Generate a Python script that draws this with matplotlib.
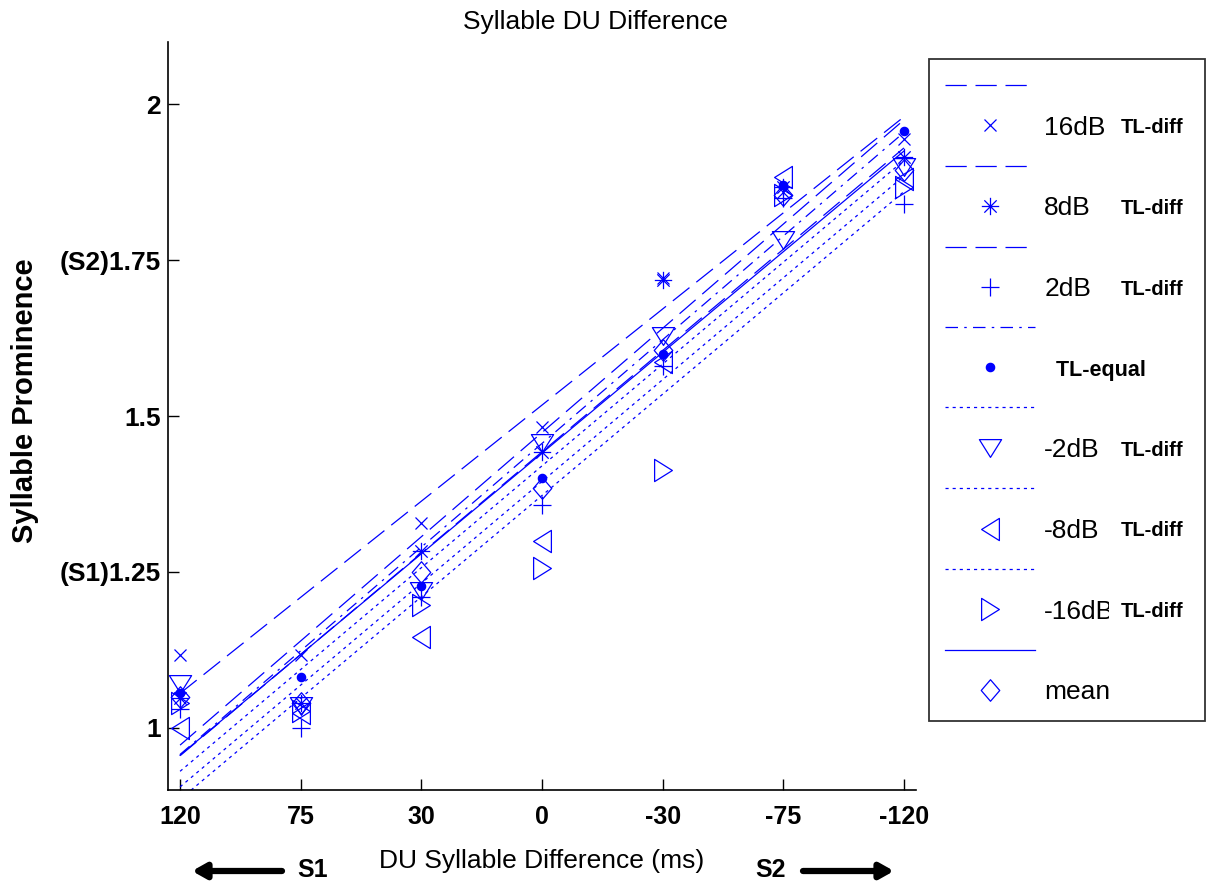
import numpy as np
import matplotlib
matplotlib.use('Agg')
import matplotlib.pyplot as plt
from matplotlib.path import Path
from matplotlib.patches import Rectangle

plt.rcParams['font.family'] = ['Liberation Sans', 'DejaVu Sans']

# Duration difference between the two syllables (ms), one category per column
du_labels = ['120', '75', '30', '0', '-30', '-75', '-120']

# Mean prominence rating for each TL condition
prom_16db = [1.116, 1.116, 1.328, 1.482, 1.722, 1.860, 1.944]
prom_8db = [1.048, 1.040, 1.283, 1.442, 1.718, 1.868, 1.916]
prom_2db = [1.030, 1.000, 1.210, 1.357, 1.580, 1.850, 1.840]
prom_tl_equal = [1.055, 1.082, 1.228, 1.400, 1.600, 1.870, 1.957]
prom_m2db = [1.070, 1.035, 1.220, 1.456, 1.628, 1.783, 1.900]
prom_m8db = [1.000, 1.024, 1.145, 1.300, 1.587, 1.883, 1.880]
prom_m16db = [1.040, 1.027, 1.196, 1.256, 1.413, 1.855, 1.867]
prom_mean = [1.050, 1.040, 1.250, 1.385, 1.606, 1.855, 1.895]

# Linear trend of each condition, evaluated at DU = 120 ms and DU = -120 ms
trend_at_120 = [1.055, 0.972, 0.955, 0.957, 0.930, 0.905, 0.885, 0.956]
trend_at_m120 = [1.980, 1.975, 1.930, 1.955, 1.910, 1.885, 1.860, 1.925]

series_labels = ['16dB', '8dB', '2dB', 'TL-equal', '-2dB', '-8dB', '-16dB', 'mean']
ytick_values = [1.0, 1.25, 1.5, 1.75, 2.0]
ytick_labels = ['1', '(S1)1.25', '1.5', '(S2)1.75', '2']

BLUE = '#0000ff'
W, H = 1207, 893

# MATLAB-like marker shapes
asterisk = Path([(-1, 0), (1, 0), (0, -1), (0, 1),
                 (-0.71, -0.71), (0.71, 0.71), (-0.71, 0.71), (0.71, -0.71)],
                [Path.MOVETO, Path.LINETO] * 4)
diamond = Path([(0, 1), (0.86, 0), (0, -1), (-0.86, 0), (0, 1)], closed=True)
tri_down = Path([(-1, 0.8), (1, 0.8), (0, -0.8), (-1, 0.8)], closed=True)
tri_left = Path([(-0.8, 0), (0.8, 1), (0.8, -1), (-0.8, 0)], closed=True)
tri_right = Path([(0.8, 0), (-0.8, 1), (-0.8, -1), (0.8, 0)], closed=True)

long_dash = (0, (17, 7))
dash_dot = (0, (10, 5, 2, 5))
dotted = (0, (2.5, 3.2))

series = [
    (prom_16db, 'x', 8, long_dash),
    (prom_8db, asterisk, 12.5, long_dash),
    (prom_2db, '+', 13.5, long_dash),
    (prom_tl_equal, 'o', 6, dash_dot),
    (prom_m2db, tri_down, 16, dotted),
    (prom_m8db, tri_left, 16, dotted),
    (prom_m16db, tri_right, 16, dotted),
    (prom_mean, diamond, 15.5, '-'),
]

fig = plt.figure(figsize=(W / 100, H / 100), dpi=100)
ax = fig.add_axes([168 / W, 1 - 790 / H, (916 - 168) / W, (790 - 42) / H])

x = np.arange(1, len(du_labels) + 1)
handles, labels = [], []
for i, (vals, mk, ms, ls) in enumerate(series):
    ln, = ax.plot([x[0], x[-1]], [trend_at_120[i], trend_at_m120[i]],
                  color=BLUE, lw=0.9, ls=ls)
    filled = (mk == 'o')
    pts, = ax.plot(x, vals, ls='none', marker=mk, ms=ms, color=BLUE,
                   mew=0.9, mfc=BLUE if filled else 'none', mec=BLUE)
    handles += [ln, pts]
    labels += [' ', series_labels[i]]

ax.set_xlim(0.9, 7.1)
ax.set_ylim(0.9, 2.1)
ax.set_xticks(x)
ax.set_xticklabels(du_labels, fontsize=18, fontweight='bold')
ax.set_yticks(ytick_values)
ax.set_yticklabels(ytick_labels, fontsize=19, fontweight='bold')
ax.tick_params(axis='x', direction='in', length=8, width=1, pad=11)
ax.tick_params(axis='y', direction='in', length=8, width=1, pad=5)
for side in ('top', 'right'):
    ax.spines[side].set_visible(False)
for side in ('left', 'bottom'):
    ax.spines[side].set_linewidth(1.2)

ax.set_xlabel('DU Syllable Difference (ms)', fontsize=19, labelpad=14)
ax.set_ylabel('Syllable Prominence', fontsize=21, fontweight='bold')
ax.yaxis.set_label_coords(-0.172, 0.52)
fig.text(595 / W, 1 - 22 / H, 'Syllable DU Difference', fontsize=19,
         ha='center', va='center')

# Direction hints below the x axis
fig.text(313 / W, 23 / H, 'S1', fontsize=18, fontweight='bold', ha='center', va='center')
fig.text(771 / W, 23 / H, 'S2', fontsize=18, fontweight='bold', ha='center', va='center')
arrow = dict(arrowstyle='-|>,head_length=0.8,head_width=0.45', lw=4.5, color='k',
             shrinkA=0, shrinkB=0)
fig.add_artist(plt.Annotation('', xy=(192 / W, 22 / H), xytext=(282 / W, 22 / H),
                              xycoords='figure fraction', textcoords='figure fraction',
                              arrowprops=arrow))
fig.add_artist(plt.Annotation('', xy=(894 / W, 22 / H), xytext=(803 / W, 22 / H),
                              xycoords='figure fraction', textcoords='figure fraction',
                              arrowprops=arrow))

leg = fig.legend(handles, labels, loc='upper left',
                 bbox_to_anchor=(929 / W, 1 - 59 / H - 0.01, (1205 - 929) / W, 0.01),
                 bbox_transform=fig.transFigure, mode='expand', borderaxespad=0,
                 fontsize=19, handlelength=3.4, handletextpad=0.35,
                 labelspacing=0.62, borderpad=0.62, frameon=True, fancybox=False,
                 edgecolor='#333333', framealpha=1, numpoints=1)
leg.get_frame().set_linewidth(1.3)
texts = leg.get_texts()
eq_text = texts[2 * series_labels.index('TL-equal') + 1]
eq_text.set_text('  TL-equal')
eq_text.set_fontweight('bold')
eq_text.set_fontsize(15.5)

# Subscript-like "TL-diff" tags beside the dB conditions
fig.canvas.draw()
renderer = fig.canvas.get_renderer()
for i, name in enumerate(series_labels):
    if name in ('TL-equal', 'mean'):
        continue
    bb = texts[2 * i + 1].get_window_extent(renderer)
    yc = (bb.y0 + bb.y1) / 2
    tag_x = 1121
    if bb.x1 > tag_x - 14:
        fig.add_artist(Rectangle(((tag_x - 12) / W, bb.y0 / H), 11 / W,
                                 (bb.y1 - bb.y0) / H, transform=fig.transFigure,
                                 facecolor='white', edgecolor='none', zorder=6))
    fig.text(tag_x / W, yc / H, 'TL-diff', fontsize=14.5, fontweight='bold',
             ha='left', va='center', zorder=7)

fig.savefig('out.png', dpi=100)
